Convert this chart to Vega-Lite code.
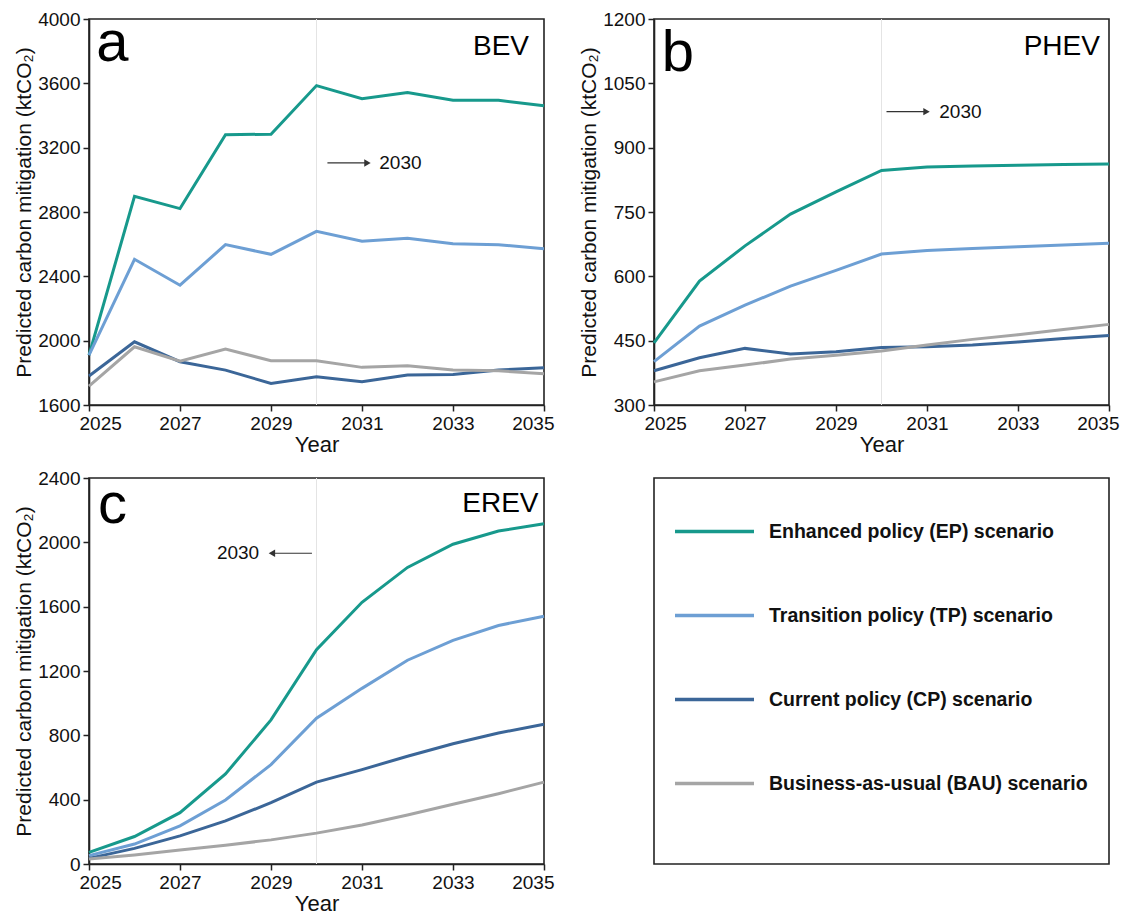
{
  "$schema": "https://vega.github.io/schema/vega-lite/v6.json",
  "background": "white",
  "padding": {"left": 12, "top": 9, "right": 5, "bottom": 0},
  "datasets": {
    "series": [
      {"vehicle": "BEV", "year": 2025, "EP": 1910, "TP": 1910, "CP": 1780, "BAU": 1718},
      {"vehicle": "BEV", "year": 2026, "EP": 2897, "TP": 2506, "CP": 1993, "BAU": 1962},
      {"vehicle": "BEV", "year": 2027, "EP": 2821, "TP": 2345, "CP": 1869, "BAU": 1872},
      {"vehicle": "BEV", "year": 2028, "EP": 3280, "TP": 2597, "CP": 1817, "BAU": 1948},
      {"vehicle": "BEV", "year": 2029, "EP": 3284, "TP": 2537, "CP": 1734, "BAU": 1875},
      {"vehicle": "BEV", "year": 2030, "EP": 3586, "TP": 2680, "CP": 1776, "BAU": 1875},
      {"vehicle": "BEV", "year": 2031, "EP": 3504, "TP": 2618, "CP": 1745, "BAU": 1834},
      {"vehicle": "BEV", "year": 2032, "EP": 3543, "TP": 2637, "CP": 1786, "BAU": 1844},
      {"vehicle": "BEV", "year": 2033, "EP": 3495, "TP": 2603, "CP": 1790, "BAU": 1817},
      {"vehicle": "BEV", "year": 2034, "EP": 3495, "TP": 2597, "CP": 1817, "BAU": 1813},
      {"vehicle": "BEV", "year": 2035, "EP": 3460, "TP": 2572, "CP": 1832, "BAU": 1794},
      {"vehicle": "PHEV", "year": 2025, "EP": 445, "TP": 401, "CP": 380, "BAU": 354},
      {"vehicle": "PHEV", "year": 2026, "EP": 589, "TP": 484, "CP": 410, "BAU": 380},
      {"vehicle": "PHEV", "year": 2027, "EP": 671, "TP": 533, "CP": 432, "BAU": 393},
      {"vehicle": "PHEV", "year": 2028, "EP": 745, "TP": 577, "CP": 419, "BAU": 407},
      {"vehicle": "PHEV", "year": 2029, "EP": 797, "TP": 614, "CP": 424, "BAU": 416},
      {"vehicle": "PHEV", "year": 2030, "EP": 847, "TP": 652, "CP": 434, "BAU": 426},
      {"vehicle": "PHEV", "year": 2031, "EP": 855, "TP": 660, "CP": 436, "BAU": 440},
      {"vehicle": "PHEV", "year": 2032, "EP": 857, "TP": 665, "CP": 440, "BAU": 453},
      {"vehicle": "PHEV", "year": 2033, "EP": 859, "TP": 669, "CP": 447, "BAU": 464},
      {"vehicle": "PHEV", "year": 2034, "EP": 861, "TP": 673, "CP": 455, "BAU": 476},
      {"vehicle": "PHEV", "year": 2035, "EP": 862, "TP": 677, "CP": 462, "BAU": 488},
      {"vehicle": "EREV", "year": 2025, "EP": 72, "TP": 52, "CP": 35, "BAU": 31},
      {"vehicle": "EREV", "year": 2026, "EP": 171, "TP": 124, "CP": 97, "BAU": 56},
      {"vehicle": "EREV", "year": 2027, "EP": 319, "TP": 237, "CP": 175, "BAU": 87},
      {"vehicle": "EREV", "year": 2028, "EP": 560, "TP": 398, "CP": 268, "BAU": 117},
      {"vehicle": "EREV", "year": 2029, "EP": 896, "TP": 618, "CP": 381, "BAU": 150},
      {"vehicle": "EREV", "year": 2030, "EP": 1333, "TP": 906, "CP": 509, "BAU": 192},
      {"vehicle": "EREV", "year": 2031, "EP": 1627, "TP": 1092, "CP": 587, "BAU": 243},
      {"vehicle": "EREV", "year": 2032, "EP": 1844, "TP": 1267, "CP": 670, "BAU": 305},
      {"vehicle": "EREV", "year": 2033, "EP": 1988, "TP": 1391, "CP": 748, "BAU": 371},
      {"vehicle": "EREV", "year": 2034, "EP": 2070, "TP": 1483, "CP": 814, "BAU": 437},
      {"vehicle": "EREV", "year": 2035, "EP": 2116, "TP": 1541, "CP": 869, "BAU": 509}
    ],
    "scenarios": [
      {"key": "EP", "scenario": "Enhanced policy (EP) scenario"},
      {"key": "TP", "scenario": "Transition policy (TP) scenario"},
      {"key": "CP", "scenario": "Current policy (CP) scenario"},
      {"key": "BAU", "scenario": "Business-as-usual (BAU) scenario"}
    ],
    "panels": [
      {"vehicle": "BEV", "letter": "a", "milestone": 2030},
      {"vehicle": "PHEV", "letter": "b", "milestone": 2030},
      {"vehicle": "EREV", "letter": "c", "milestone": 2030}
    ]
  },
  "columns": 2,
  "bounds": "flush",
  "spacing": {"column": 110, "row": 73},
  "resolve": {"legend": {"color": "independent"}},
  "concat": [
    {
      "width": 455, "height": 386,
      "data": {"name": "panels"},
      "transform": [{"filter": "datum.vehicle == 'BEV'"}],
      "layer": [
        {"mark": {"type": "rule", "color": "#e4e4e4", "strokeWidth": 1}, "encoding": {"x": {"field": "milestone", "type": "quantitative"}}},
        {
          "data": {"name": "series"},
          "transform": [
            {"filter": "datum.vehicle == 'BEV'"},
            {"fold": ["EP", "TP", "CP", "BAU"], "as": ["key", "value"]},
            {"lookup": "key", "from": {"data": {"name": "scenarios"}, "key": "key", "fields": ["scenario"]}}
          ],
          "mark": {"type": "line", "strokeWidth": 3},
          "encoding": {
            "x": {"field": "year", "type": "quantitative", "scale": {"domain": [2025, 2035], "nice": false, "zero": false},
                  "axis": {"values": [2025, 2027, 2029, 2031, 2033, 2035], "format": "d", "title": "Year", "labelFlush": true, "labelFlushOffset": 10}},
            "y": {"field": "value", "type": "quantitative", "scale": {"domain": [1600, 4000], "nice": false, "zero": false},
                  "axis": {"values": [1600, 2000, 2400, 2800, 3200, 3600, 4000], "format": "d", "title": "Predicted carbon mitigation (ktCO₂)"}},
            "color": {"field": "scenario", "type": "nominal", "legend": null,
                      "scale": {"domain": ["Enhanced policy (EP) scenario", "Transition policy (TP) scenario", "Current policy (CP) scenario", "Business-as-usual (BAU) scenario"],
                                "range": ["#17998c", "#6d9fd4", "#3b6698", "#a5a5a5"]}}
          }
        },
        {"mark": {"type": "rule", "color": "#333333", "strokeWidth": 1.2}, "encoding": {"x": {"datum": 2030.24}, "x2": {"datum": 2031.1}, "y": {"datum": 3105}}},
        {"mark": {"type": "point", "shape": "triangle-right", "filled": true, "color": "#333333", "size": 55, "opacity": 1}, "encoding": {"x": {"datum": 2031.12}, "y": {"datum": 3105}}},
        {"mark": {"type": "text", "align": "left", "baseline": "middle", "fontSize": 19, "color": "#111111"}, "encoding": {"x": {"datum": 2031.38}, "y": {"datum": 3105}, "text": {"field": "milestone", "type": "quantitative", "format": "d"}}},
        {"mark": {"type": "text", "align": "left", "baseline": "alphabetic", "fontSize": 58, "color": "#000000"}, "encoding": {"x": {"datum": 2025.16}, "y": {"datum": 3739}, "text": {"field": "letter"}}},
        {"mark": {"type": "text", "align": "right", "baseline": "alphabetic", "fontSize": 28, "color": "#000000"}, "encoding": {"x": {"datum": 2034.67}, "y": {"datum": 3777}, "text": {"field": "vehicle"}}}
      ]
    },
    {
      "width": 455, "height": 386,
      "data": {"name": "panels"},
      "transform": [{"filter": "datum.vehicle == 'PHEV'"}],
      "layer": [
        {"mark": {"type": "rule", "color": "#e4e4e4", "strokeWidth": 1}, "encoding": {"x": {"field": "milestone", "type": "quantitative"}}},
        {
          "data": {"name": "series"},
          "transform": [
            {"filter": "datum.vehicle == 'PHEV'"},
            {"fold": ["EP", "TP", "CP", "BAU"], "as": ["key", "value"]},
            {"lookup": "key", "from": {"data": {"name": "scenarios"}, "key": "key", "fields": ["scenario"]}}
          ],
          "mark": {"type": "line", "strokeWidth": 3},
          "encoding": {
            "x": {"field": "year", "type": "quantitative", "scale": {"domain": [2025, 2035], "nice": false, "zero": false},
                  "axis": {"values": [2025, 2027, 2029, 2031, 2033, 2035], "format": "d", "title": "Year", "labelFlush": true, "labelFlushOffset": 10}},
            "y": {"field": "value", "type": "quantitative", "scale": {"domain": [300, 1200], "nice": false, "zero": false},
                  "axis": {"values": [300, 450, 600, 750, 900, 1050, 1200], "format": "d", "title": "Predicted carbon mitigation (ktCO₂)"}},
            "color": {"field": "scenario", "type": "nominal", "legend": null}
          }
        },
        {"mark": {"type": "rule", "color": "#333333", "strokeWidth": 1.2}, "encoding": {"x": {"datum": 2030.11}, "x2": {"datum": 2030.97}, "y": {"datum": 984}}},
        {"mark": {"type": "point", "shape": "triangle-right", "filled": true, "color": "#333333", "size": 55, "opacity": 1}, "encoding": {"x": {"datum": 2030.99}, "y": {"datum": 984}}},
        {"mark": {"type": "text", "align": "left", "baseline": "middle", "fontSize": 19, "color": "#111111"}, "encoding": {"x": {"datum": 2031.27}, "y": {"datum": 984}, "text": {"field": "milestone", "type": "quantitative", "format": "d"}}},
        {"mark": {"type": "text", "align": "left", "baseline": "alphabetic", "fontSize": 58, "color": "#000000"}, "encoding": {"x": {"datum": 2025.17}, "y": {"datum": 1079}, "text": {"field": "letter"}}},
        {"mark": {"type": "text", "align": "right", "baseline": "alphabetic", "fontSize": 28, "color": "#000000"}, "encoding": {"x": {"datum": 2034.8}, "y": {"datum": 1116}, "text": {"field": "vehicle"}}}
      ]
    },
    {
      "width": 455, "height": 386,
      "data": {"name": "panels"},
      "transform": [{"filter": "datum.vehicle == 'EREV'"}],
      "layer": [
        {"mark": {"type": "rule", "color": "#e4e4e4", "strokeWidth": 1}, "encoding": {"x": {"field": "milestone", "type": "quantitative"}}},
        {
          "data": {"name": "series"},
          "transform": [
            {"filter": "datum.vehicle == 'EREV'"},
            {"fold": ["EP", "TP", "CP", "BAU"], "as": ["key", "value"]},
            {"lookup": "key", "from": {"data": {"name": "scenarios"}, "key": "key", "fields": ["scenario"]}}
          ],
          "mark": {"type": "line", "strokeWidth": 3},
          "encoding": {
            "x": {"field": "year", "type": "quantitative", "scale": {"domain": [2025, 2035], "nice": false, "zero": false},
                  "axis": {"values": [2025, 2027, 2029, 2031, 2033, 2035], "format": "d", "title": "Year", "labelFlush": true, "labelFlushOffset": 10}},
            "y": {"field": "value", "type": "quantitative", "scale": {"domain": [0, 2400], "nice": false},
                  "axis": {"values": [0, 400, 800, 1200, 1600, 2000, 2400], "format": "d", "title": "Predicted carbon mitigation (ktCO₂)"}},
            "color": {"field": "scenario", "type": "nominal", "legend": null}
          }
        },
        {"mark": {"type": "rule", "color": "#333333", "strokeWidth": 1.2}, "encoding": {"x": {"datum": 2029.9}, "x2": {"datum": 2029.04}, "y": {"datum": 1932}}},
        {"mark": {"type": "point", "shape": "triangle-left", "filled": true, "color": "#333333", "size": 55, "opacity": 1}, "encoding": {"x": {"datum": 2029.02}, "y": {"datum": 1932}}},
        {"mark": {"type": "text", "align": "right", "baseline": "middle", "fontSize": 19, "color": "#111111"}, "encoding": {"x": {"datum": 2028.74}, "y": {"datum": 1932}, "text": {"field": "milestone", "type": "quantitative", "format": "d"}}},
        {"mark": {"type": "text", "align": "left", "baseline": "alphabetic", "fontSize": 58, "color": "#000000"}, "encoding": {"x": {"datum": 2025.2}, "y": {"datum": 2121}, "text": {"field": "letter"}}},
        {"mark": {"type": "text", "align": "right", "baseline": "alphabetic", "fontSize": 28, "color": "#000000"}, "encoding": {"x": {"datum": 2034.88}, "y": {"datum": 2189}, "text": {"field": "vehicle"}}}
      ]
    },
    {
      "width": 455, "height": 386,
      "view": {"stroke": "#222222", "strokeWidth": 1.6, "fill": "white"},
      "data": {"name": "scenarios"},
      "mark": {"type": "point", "opacity": 0},
      "encoding": {
        "x": {"field": "key", "type": "nominal", "axis": null},
        "y": {"field": "key", "type": "nominal", "axis": null},
        "color": {"field": "scenario", "type": "nominal",
                  "legend": {"orient": "none", "legendX": 19, "legendY": 12, "direction": "vertical", "title": null,
                             "symbolType": "stroke", "symbolSize": 6241, "symbolStrokeWidth": 3.5, "symbolOpacity": 1,
                             "labelFontSize": 19.5, "labelFontWeight": "bold", "labelColor": "#111111", "labelOffset": 13,
                             "labelLimit": 0, "rowPadding": 33, "padding": 0}}
      }
    }
  ],
  "config": {
    "font": "Liberation Sans",
    "view": {"stroke": "#222222", "strokeWidth": 1.6},
    "axis": {
      "grid": false,
      "domainColor": "#222222", "domainWidth": 1.6,
      "tickColor": "#222222", "tickWidth": 1.5, "tickSize": 6,
      "labelFontSize": 19, "labelColor": "#111111", "labelPadding": 3,
      "titleFontWeight": "normal", "titleColor": "#111111"
    },
    "axisX": {"titleFontSize": 22, "titlePadding": 1},
    "axisY": {"titleFontSize": 21, "titlePadding": 3, "labelFlush": false}
  }
}
